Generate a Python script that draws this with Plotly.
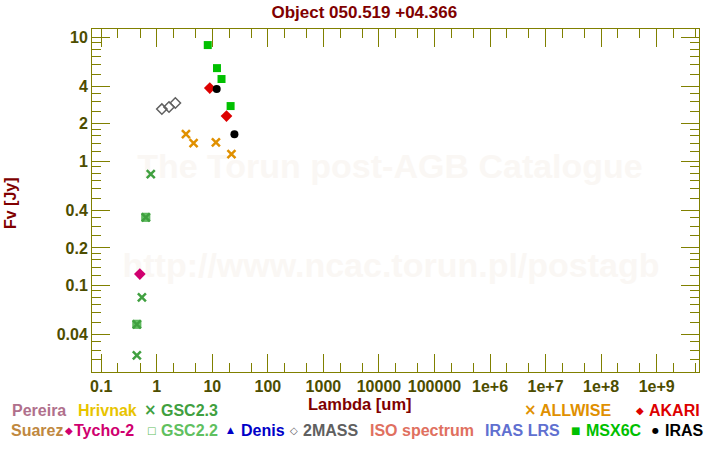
import plotly.graph_objects as go

# ---------------- data ----------------
msx_wl = [8.28, 12.13, 14.65, 21.34]
msx_fl = [8.62, 5.62, 4.59, 2.78]

akari_wl = [9.0, 18.0]
akari_fl = [3.88, 2.31]

iras_wl = [12.0, 25.0]
iras_fl = [3.81, 1.65]

allwise_wl = [3.35, 4.6, 11.6, 22.1]
allwise_fl = [1.65, 1.40, 1.42, 1.14]

tmass_wl = [1.235, 1.662, 2.159]
tmass_fl = [2.63, 2.73, 2.94]

gsc23_wl = [0.78, 0.635, 0.54, 0.438, 0.438]
gsc23_fl = [0.786, 0.353, 0.080, 0.0272, 0.0485]

gsc22_wl = [0.635, 0.438]
gsc22_fl = [0.353, 0.0485]

tycho_wl = [0.496]
tycho_fl = [0.123]

x_tickvals = [0.1, 1, 10, 100, 1000, 1e4, 1e5, 1e6, 1e7, 1e8, 1e9]
x_ticktext = ["0.1", "1", "10", "100", "1000", "10000", "100000",
              "1e+6", "1e+7", "1e+8", "1e+9"]
y_tickvals = [10, 4, 2, 1, 0.4, 0.2, 0.1, 0.04]
y_ticktext = ["10", "4", "2", "1", "0.4", "0.2", "0.1", "0.04"]

x_minor = [m * 10.0 ** e for e in range(-1, 10) for m in (2, 5)]
y_minor = []
for e in range(-2, 2):
    d = 10.0 ** e
    y_minor += [m * d for m in (1.2, 1.4, 1.6, 1.8, 2.5, 3, 3.5, 5, 6, 7, 8, 9)]
y_minor = [v for v in y_minor if v not in y_tickvals]

# ---------------- layout constants ----------------
W, H = 720, 450
L, R, T, B = 92, 699, 29, 372
OLIVE = "#808000"
TICKC = "#4d4d00"
DARKRED = "#800000"
FONT = "Liberation Sans, Arial, sans-serif"


def px_x(p):
    return (p - L) / (R - L)


def px_y(p):
    return (B - p) / (B - T)


fig = go.Figure()

fig.add_trace(go.Scatter(x=gsc22_wl, y=gsc22_fl, mode="markers",
                         marker=dict(symbol="square", size=8, color="#66c466",
                                     line=dict(color="#50b050", width=1))))
fig.add_trace(go.Scatter(x=gsc23_wl, y=gsc23_fl, mode="markers",
                         marker=dict(symbol="x-thin-open", size=8, color="#40a040",
                                     line=dict(color="#40a040", width=2.5))))
fig.add_trace(go.Scatter(x=tycho_wl, y=tycho_fl, mode="markers",
                         marker=dict(symbol="diamond", size=9, color="#d0006f",
                                     line=dict(width=0))))
fig.add_trace(go.Scatter(x=tmass_wl, y=tmass_fl, mode="markers",
                         marker=dict(symbol="diamond-open", size=8, color="#606060",
                                     line=dict(color="#606060", width=1.5))))
fig.add_trace(go.Scatter(x=allwise_wl, y=allwise_fl, mode="markers",
                         marker=dict(symbol="x-thin-open", size=8, color="#e09000",
                                     line=dict(color="#e09000", width=2.5))))
fig.add_trace(go.Scatter(x=msx_wl, y=msx_fl, mode="markers",
                         marker=dict(symbol="square", size=8, color="#00c000",
                                     line=dict(width=0))))
fig.add_trace(go.Scatter(x=akari_wl, y=akari_fl, mode="markers",
                         marker=dict(symbol="diamond", size=9, color="#dd0000",
                                     line=dict(width=0))))
fig.add_trace(go.Scatter(x=iras_wl, y=iras_fl, mode="markers",
                         marker=dict(symbol="circle", size=8, color="#000000",
                                     line=dict(width=0))))

axis_common = dict(
    type="log", showgrid=False, zeroline=False, showline=True,
    linecolor=OLIVE, linewidth=1, mirror="ticks",
    ticks="inside", ticklen=18, tickwidth=1, tickcolor=OLIVE,
    tickfont=dict(family=FONT, size=16, color=TICKC, weight="bold"),
    tickmode="array",
)

fig.update_layout(
    width=W, height=H,
    margin=dict(l=L, r=W - R, t=T, b=H - B, pad=0),
    paper_bgcolor="white", plot_bgcolor="white",
    showlegend=False,
    font=dict(family=FONT, weight="bold"),
    title=dict(text="Object 050.519 +04.366", x=0.506, xref="container",
               xanchor="center", y=1 - 12 / H, yref="container", yanchor="middle",
               font=dict(family=FONT, size=17, color=DARKRED, weight="bold")),
    xaxis=dict(axis_common, range=[-1.166, 9.762], tickvals=x_tickvals,
               ticktext=x_ticktext,
               minor=dict(tickmode="array", tickvals=x_minor, ticks="inside",
                          ticklen=9, tickwidth=1, tickcolor=OLIVE)),
    yaxis=dict(axis_common, range=[-1.699, 1.065], tickvals=y_tickvals,
               ticktext=y_ticktext,
               minor=dict(tickmode="array", tickvals=y_minor, ticks="inside",
                          ticklen=9, tickwidth=1, tickcolor=OLIVE)),
)

# watermark as shape labels drawn below the data
WM = "#faf7f4"
for txt, cx, cy in [("The Torun post-AGB Catalogue", 390, 163),
                    ("http://www.ncac.torun.pl/postagb", 391, 262)]:
    fig.add_shape(type="rect", xref="paper", yref="paper",
                  x0=px_x(cx - 20), x1=px_x(cx + 20),
                  y0=px_y(cy + 15), y1=px_y(cy - 15),
                  line=dict(width=0), fillcolor="rgba(0,0,0,0)", layer="below",
                  label=dict(text=txt, textposition="middle center",
                             font=dict(family=FONT, size=34, color=WM,
                                       weight="bold")))

ann = []
# axis titles
ann.append(dict(text="Lambda [um]", x=px_x(360), y=px_y(404), xref="paper",
                yref="paper", showarrow=False, xanchor="center", yanchor="middle",
                font=dict(family=FONT, size=16.5, color=DARKRED, weight="bold")))
ann.append(dict(text="Fv [Jy]", x=px_x(10), y=px_y(203), xref="paper",
                yref="paper", showarrow=False, textangle=-90,
                xanchor="center", yanchor="middle",
                font=dict(family=FONT, size=16, color=DARKRED, weight="bold")))

# legend texts (text, left px, row y px, color)
ROW1, ROW2 = 410, 430
legend_texts = [
    ("Pereira", 12, ROW1, "#b0708c"),
    ("Hrivnak", 78, ROW1, "#e8c400"),
    ("GSC2.3", 161, ROW1, "#40a040"),
    ("ALLWISE", 540, ROW1, "#e09000"),
    ("AKARI", 649, ROW1, "#dd0000"),
    ("Suarez", 11, ROW2, "#c08840"),
    ("Tycho-2", 74, ROW2, "#d0006f"),
    ("GSC2.2", 161, ROW2, "#60c060"),
    ("Denis", 241, ROW2, "#0000c8"),
    ("2MASS", 303, ROW2, "#606060"),
    ("ISO spectrum", 370, ROW2, "#e07060"),
    ("IRAS LRS", 485, ROW2, "#6070d0"),
    ("MSX6C", 586, ROW2, "#00c000"),
    ("IRAS", 665, ROW2, "#000000"),
]
for txt, lx, ry, col in legend_texts:
    ann.append(dict(text=txt, x=px_x(lx - 2), y=px_y(ry), xref="paper",
                    yref="paper", showarrow=False, xanchor="left",
                    yanchor="middle",
                    font=dict(family=FONT, size=16, color=col, weight="bold")))

legend_glyphs = [
    ("\u00d7", 150, ROW1, "#40a040", 15),
    ("\u00d7", 530, ROW1, "#e09000", 15),
    ("\u25c6", 640, ROW1, "#dd0000", 10),
    ("\u25c6", 69, ROW2, "#d0006f", 10),
    ("\u25a1", 151, ROW2, "#60c060", 10),
    ("\u25b2", 230, ROW2, "#0000c8", 9),
    ("\u25c7", 294, ROW2, "#606060", 10),
    ("\u25a0", 575, ROW2, "#00c000", 10),
    ("\u25cf", 655, ROW2, "#000000", 8),
]
for g, cx, ry, col, sz in legend_glyphs:
    ann.append(dict(text=g, x=px_x(cx), y=px_y(ry), xref="paper", yref="paper",
                    showarrow=False, xanchor="center", yanchor="middle",
                    font=dict(family="DejaVu Sans", size=sz, color=col)))

fig.update_layout(annotations=ann)

fig.write_html("out.html",
               config={"displayModeBar": False},
               post_script="document.body.style.margin='0px';")
